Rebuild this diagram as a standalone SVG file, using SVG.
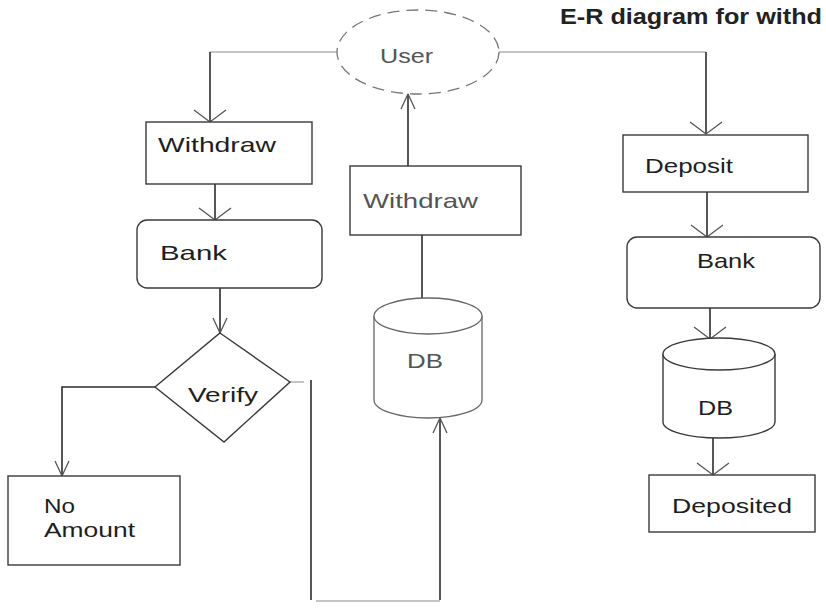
<svg xmlns="http://www.w3.org/2000/svg" width="826" height="612" viewBox="0 0 826 612">
  <style>
    .box { fill: #fff; stroke: #3a3a3a; stroke-width: 1.4; }
    .soft { fill: #fff; stroke: #666; stroke-width: 1.3; }
    .lbl { font-family: "Liberation Sans", Arial, sans-serif; font-size: 21px; fill: #1e1e1e; }
    .grey { fill: #555; }
    .wire { fill: none; stroke: #2c2c2c; stroke-width: 1.6; }
    .faint { fill: none; stroke: #888; stroke-width: 1; }
  </style>
  <defs>
    <marker id="vWide" markerUnits="userSpaceOnUse" markerWidth="16" markerHeight="36" viewBox="0 0 16 36" refX="14" refY="18" orient="auto">
      <path d="M2,2 L14,18 L2,34" fill="none" stroke="#555" stroke-width="1.3"/>
    </marker>
    <marker id="vNarrow" markerUnits="userSpaceOnUse" markerWidth="18" markerHeight="18" viewBox="0 0 18 18" refX="16" refY="9" orient="auto">
      <path d="M1,2 L16,9 L1,16" fill="none" stroke="#555" stroke-width="1.3"/>
    </marker>
  </defs>

  <rect width="826" height="612" fill="#fff"/>

  <!-- heading -->
  <text x="560" y="24" font-family="'Liberation Sans', Arial, sans-serif" font-size="22" font-weight="bold" fill="#222" textLength="262" lengthAdjust="spacingAndGlyphs">E-R diagram for withd</text>

  <g id="connectors">
    <path class="faint" d="M337,52 H210"/>
    <path class="wire" d="M210,52 V122" marker-end="url(#vWide)"/>
    <path class="wire" d="M215,184 V220" marker-end="url(#vWide)"/>
    <path class="wire" d="M220,288 V333" marker-end="url(#vNarrow)"/>
    <path class="wire" d="M155,387 H62 V476" marker-end="url(#vNarrow)"/>
    <path class="faint" d="M290,382 H304"/>
    <path class="wire" d="M311,380 V600"/>
    <path class="faint" d="M316,601 H440"/>
    <path class="wire" d="M440,600 V418" marker-end="url(#vNarrow)"/>
    <path class="wire" d="M408,166 V94" marker-end="url(#vNarrow)"/>
    <path class="wire" d="M422,235 V298"/>
    <path class="faint" d="M498,52 H706"/>
    <path class="wire" d="M706,52 V134" marker-end="url(#vWide)"/>
    <path class="wire" d="M707,192 V237" marker-end="url(#vWide)"/>
    <path class="wire" d="M710,308 V339" marker-end="url(#vWide)"/>
    <path class="wire" d="M713,438 V475" marker-end="url(#vWide)"/>
  </g>

  <g id="user">
    <ellipse cx="418" cy="52" rx="81" ry="42" fill="#fff" stroke="#777" stroke-width="1.3" stroke-dasharray="12 7"/>
    <text class="lbl grey" x="380" y="63" textLength="53" lengthAdjust="spacingAndGlyphs">User</text>
  </g>

  <g id="withdraw-left">
    <rect class="box" x="146" y="122" width="166" height="62"/>
    <text class="lbl" x="158" y="152" textLength="118" lengthAdjust="spacingAndGlyphs">Withdraw</text>
  </g>

  <g id="bank-left">
    <rect class="box" x="137" y="220" width="185" height="68" rx="10"/>
    <text class="lbl" x="160" y="260" textLength="67" lengthAdjust="spacingAndGlyphs">Bank</text>
  </g>

  <g id="verify">
    <polygon class="box" points="220,333 290,382 224,442 155,387"/>
    <text class="lbl" x="188" y="402" textLength="70" lengthAdjust="spacingAndGlyphs">Verify</text>
  </g>

  <g id="no-amount">
    <rect class="box" x="8" y="476" width="172" height="89"/>
    <text class="lbl" x="44" y="513" textLength="31" lengthAdjust="spacingAndGlyphs">No</text>
    <text class="lbl" x="44" y="537" textLength="91" lengthAdjust="spacingAndGlyphs">Amount</text>
  </g>

  <g id="withdraw-mid">
    <rect class="box" x="350" y="166" width="171" height="69"/>
    <text class="lbl grey" x="363" y="208" textLength="115" lengthAdjust="spacingAndGlyphs">Withdraw</text>
  </g>

  <g id="db-mid">
    <path class="soft" d="M374,316 A54,18 0 0 1 482,316 V400 A54,18 0 0 1 374,400 Z"/>
    <path class="soft" d="M374,316 A54,18 0 0 0 482,316" fill="none"/>
    <text class="lbl grey" x="407" y="368" textLength="36" lengthAdjust="spacingAndGlyphs">DB</text>
  </g>

  <g id="deposit">
    <rect class="box" x="623" y="135" width="185" height="57"/>
    <text class="lbl" x="645" y="173" textLength="88" lengthAdjust="spacingAndGlyphs">Deposit</text>
  </g>

  <g id="bank-right">
    <rect class="box" x="627" y="237" width="193" height="71" rx="10"/>
    <text class="lbl" x="697" y="268" textLength="58" lengthAdjust="spacingAndGlyphs">Bank</text>
  </g>

  <g id="db-right">
    <path class="box" d="M663,354 A56,16 0 0 1 775,354 V422 A56,16 0 0 1 663,422 Z"/>
    <path class="box" d="M663,354 A56,16 0 0 0 775,354" fill="none"/>
    <text class="lbl" x="698" y="415" textLength="35" lengthAdjust="spacingAndGlyphs">DB</text>
  </g>

  <g id="deposited">
    <rect class="box" x="649" y="475" width="166" height="57"/>
    <text class="lbl" x="672" y="513" textLength="120" lengthAdjust="spacingAndGlyphs">Deposited</text>
  </g>
</svg>
